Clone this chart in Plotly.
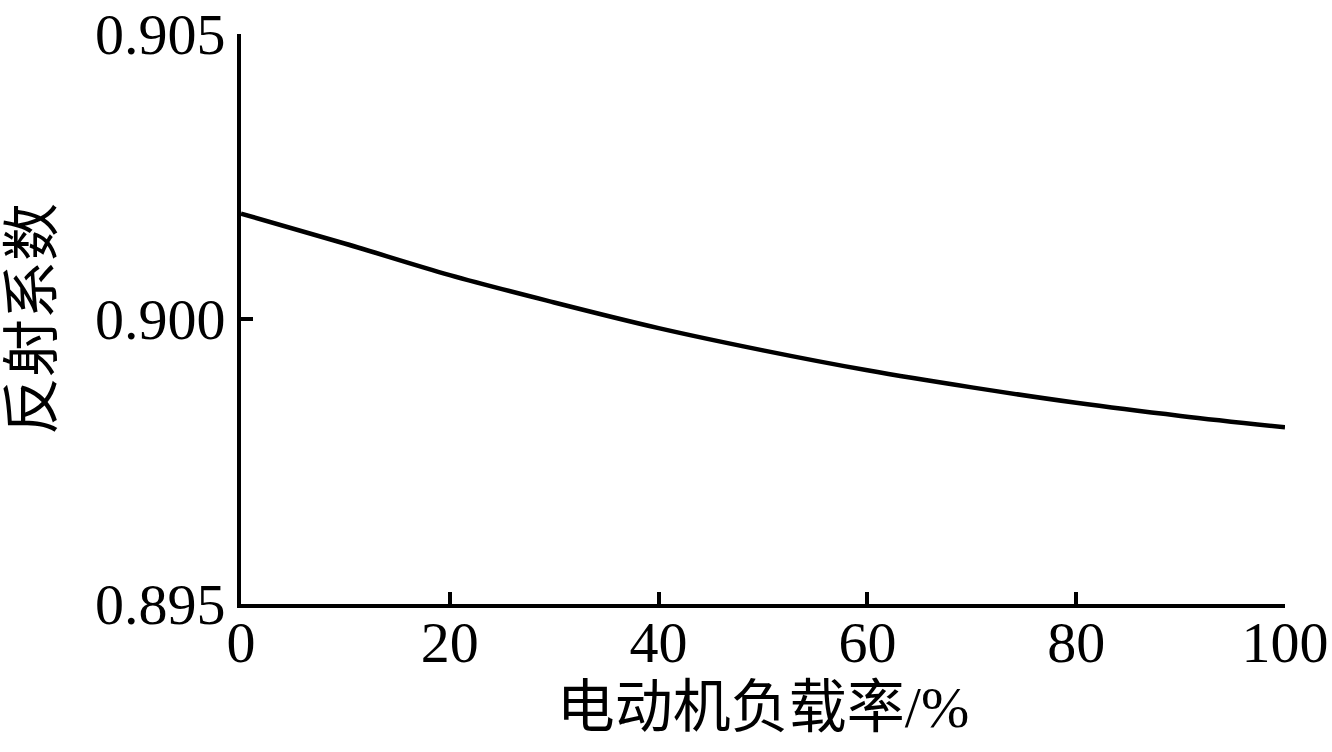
import plotly.graph_objects as go

load_rate = [0, 10, 20, 30, 40, 50, 60, 70, 80, 90, 100]
reflect = [0.90185, 0.90132, 0.90077, 0.90029, 0.89984, 0.89945,
           0.89910, 0.89880, 0.89853, 0.89830, 0.89810]

x_ticks = [0, 20, 40, 60, 80, 100]
y_ticks = [0.895, 0.900, 0.905]
y_tick_text = ["0.895", "0.900", "0.905"]

FONT = "Liberation Serif, Times New Roman, Noto Sans CJK SC, serif"
FS = 58

fig = go.Figure()
fig.add_trace(go.Scatter(
    x=load_rate, y=reflect, mode="lines",
    line=dict(color="black", width=4.5, shape="spline", smoothing=1.0),
    showlegend=False, hoverinfo="skip",
))

fig.update_layout(
    width=1332, height=752,
    margin=dict(l=241, r=47, t=34, b=148),
    paper_bgcolor="white", plot_bgcolor="white",
    font=dict(family=FONT, size=FS, color="black"),
)
fig.update_xaxes(
    range=[0, 100], tickvals=x_ticks, ticktext=[str(v) for v in x_ticks],
    ticks="inside", ticklen=12, tickwidth=4, tickcolor="black",
    ticklabelstandoff=-16,
    showline=True, linewidth=4, linecolor="black", mirror=False,
    showgrid=False, zeroline=False,
    tickfont=dict(family=FONT, size=FS, color="black"),
    title=dict(text="电动机负载率/%", font=dict(family=FONT, size=FS, color="black"), standoff=8),
    automargin=False,
)
fig.update_yaxes(
    range=[0.895, 0.905], tickvals=y_ticks, ticktext=y_tick_text,
    ticks="inside", ticklen=12, tickwidth=4, tickcolor="black",
    showline=True, linewidth=4, linecolor="black", mirror=False,
    showgrid=False, zeroline=False,
    tickfont=dict(family=FONT, size=FS, color="black"),
    title=dict(text="反射系数", font=dict(family=FONT, size=FS, color="black"), standoff=38),
    automargin=False,
)

fig.write_html("out.html", config={"displayModeBar": False},
               post_script="document.body.style.margin='0';")
